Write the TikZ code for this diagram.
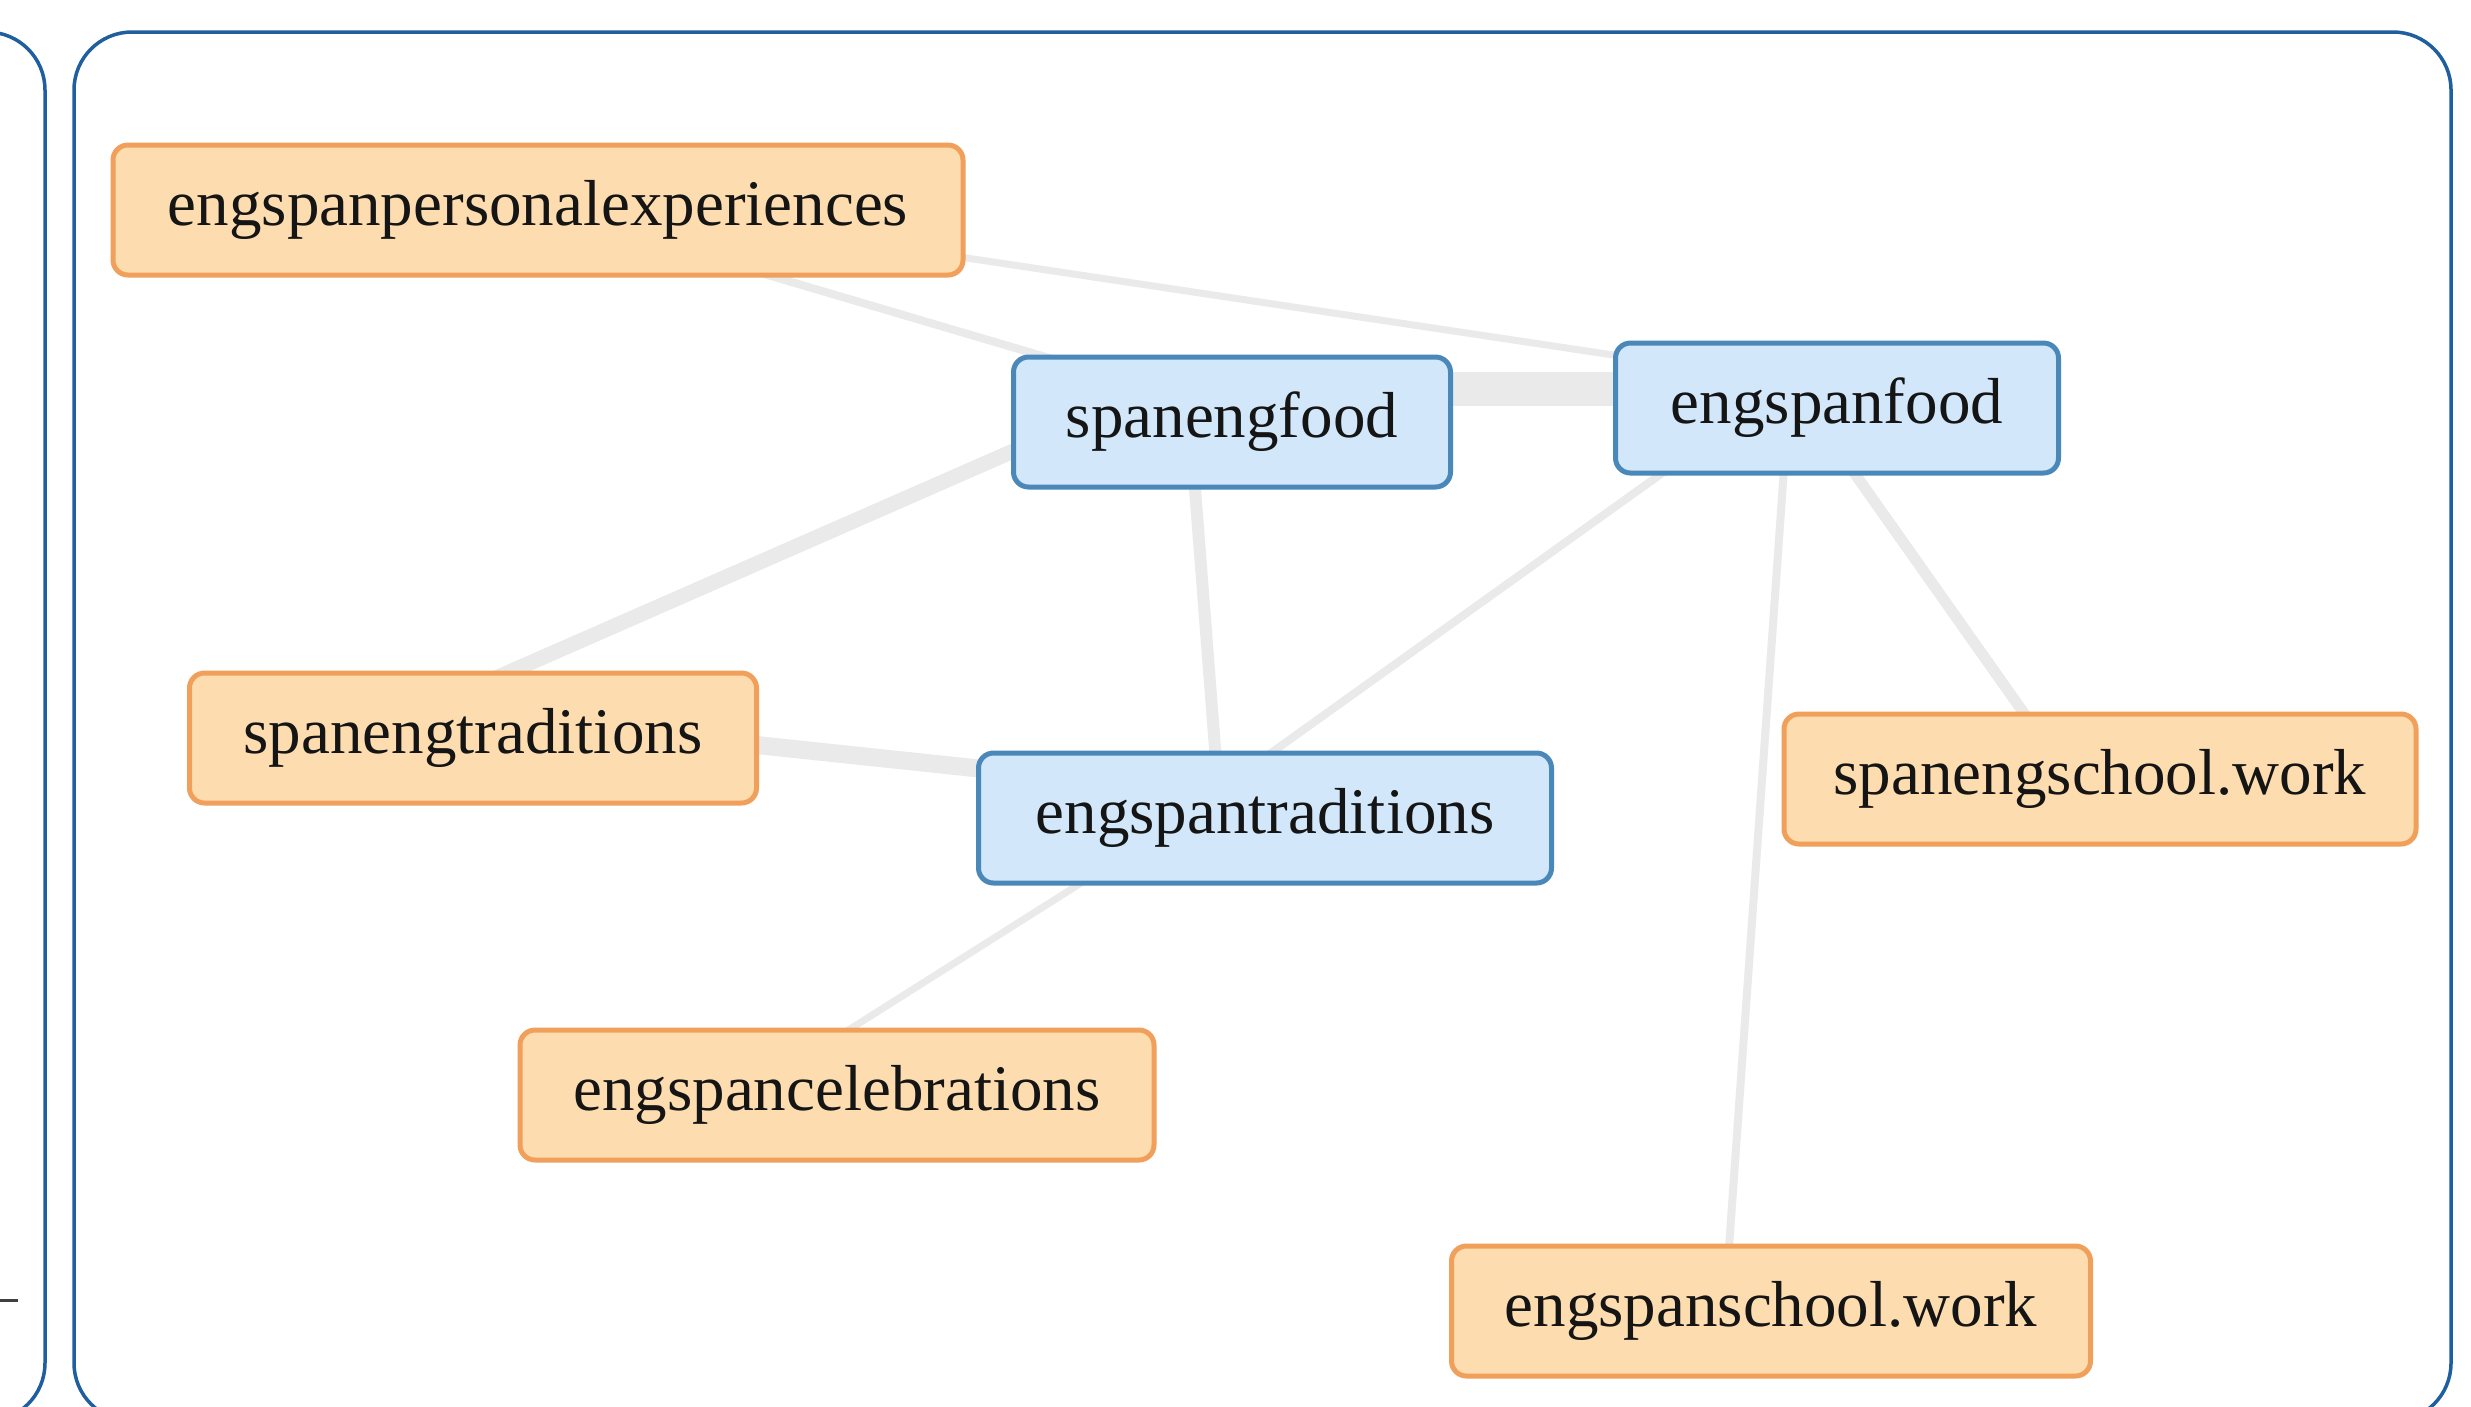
\documentclass[tikz,border=0pt]{standalone}
\usepackage{fontspec}
\setmainfont{Liberation Serif}
\usetikzlibrary{calc,backgrounds}
\definecolor{panelblue}{HTML}{1F5F9F}
\definecolor{orfill}{HTML}{FDDDAF}
\definecolor{ordraw}{HTML}{F0A05A}
\definecolor{blfill}{HTML}{D2E7FA}
\definecolor{bldraw}{HTML}{4A88BA}
\definecolor{edgegray}{HTML}{EAEAEA}
\definecolor{txt}{HTML}{151515}
\tikzset{
  panel/.style={draw=panelblue, line width=0.35mm, rounded corners=5.8mm},
  boxbase/.style={rectangle, rounded corners=1.5mm, line width=0.5mm, minimum height=13mm,
    inner sep=0pt, text=txt, font=\fontsize{18.5}{22}\selectfont},
  orbox/.style={boxbase, draw=ordraw, fill=orfill},
  blbox/.style={boxbase, draw=bldraw, fill=blfill},
  edge/.style={draw=edgegray, line cap=butt}
}
\begin{document}
\begin{tikzpicture}[x=0.1mm, y=-0.1mm]
\useasboundingbox (0,0) rectangle (2471,1406);
\clip (0,0) rectangle (2471,1406);
\begin{pgfonlayer}{background}
\fill[white] (0,0) rectangle (2471,1406);
\end{pgfonlayer}
\draw[panel] (-300,32) rectangle (45,1421);
\draw[panel] (74,32) rectangle (2451,1421);
\draw[line width=0.3mm, draw=black!75] (0,1300) -- (18,1300);

\node[orbox, minimum width=85mm] (pe) at (538,210) {engspanpersonalexperiences};
\node[blbox, minimum width=43.7mm] (sf) at (1232,422) {spanengfood};
\node[blbox, minimum width=44.3mm] (ef) at (1837,408) {engspanfood};
\node[orbox, minimum width=56.7mm] (st) at (473,738) {spanengtraditions};
\node[blbox, minimum width=57.3mm] (et) at (1265,818) {engspantraditions};
\node[orbox, minimum width=63.2mm] (ssw) at (2100,779) {spanengschool.work};
\node[orbox, minimum width=63.4mm] (ecb) at (837,1095) {engspancelebrations};
\node[orbox, minimum width=63.9mm] (esw) at (1771,1311) {engspanschool.work};

\begin{pgfonlayer}{background}
\draw[edge, line width=0.8mm] ($(pe)+(162,45)$) -- ($(sf)+(-132,-49)$);
\draw[edge, line width=0.7mm] ($(pe)+(362,38)$) -- ($(ef)+(-137,-40)$);
\draw[edge, line width=3.4mm] ($(sf)+(168,-33)$) -- ($(ef)+(-137,-19)$);
\draw[edge, line width=1.5mm] ($(sf)+(-132,-9)$) -- ($(st)+(-23,-40)$);
\draw[edge, line width=1.2mm] ($(sf)+(-40,28)$) -- ($(et)+(-46,-18)$);
\draw[edge, line width=0.8mm] ($(ef)+(-137,38)$) -- ($(et)+(-15,-50)$);
\draw[edge, line width=0.8mm] ($(ef)+(-51,32)$) -- ($(esw)+(-45,-21)$);
\draw[edge, line width=1.1mm] ($(ef)+(-6,32)$) -- ($(ssw)+(-43,-19)$);
\draw[edge, line width=1.8mm] ($(st)+(227,1)$) -- ($(et)+(-215,-42)$);
\draw[edge, line width=0.7mm] ($(et)+(-165,53)$) -- ($(ecb)+(-17,-47)$);
\end{pgfonlayer}
\end{tikzpicture}
\end{document}
